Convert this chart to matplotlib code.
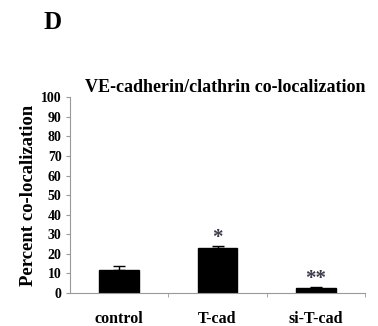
import numpy as np
import matplotlib.pyplot as plt

plt.rcParams['font.family'] = ['Liberation Serif', 'DejaVu Serif']
plt.rcParams['font.weight'] = 'bold'

groups = ["control", "T-cad", "si-T-cad"]
values = [12.0, 23.0, 2.5]
errors = [2.0, 1.0, 0.8]
marks = ["", "*", "**"]

fig = plt.figure(figsize=(3.78, 3.26), dpi=100)
ax = fig.add_axes([0.185, 0.101, 0.781, 0.601])

x = np.arange(len(groups))
ax.bar(x, values, width=0.4, color="black", edgecolor="black")
ax.errorbar(x, values, yerr=[np.zeros(3), errors], fmt="none", ecolor="black",
            elinewidth=1, capsize=4, capthick=1)
for xi, v, e, m in zip(x, values, errors, marks):
    if m:
        ax.text(xi, v + e - 1.0, m, ha="center", va="bottom", fontsize=15,
                color="#3a3a4a", fontweight="bold")

ax.set_xlim(-0.5, 2.5)
ax.set_ylim(0, 100)
ax.set_yticks(np.arange(0, 101, 10))
ax.set_xticks(x)
ax.set_xticklabels(groups, fontsize=11.5, fontweight="bold")
ax.set_xticks([0.5, 1.5, 2.5], minor=True)
ax.tick_params(axis="x", which="major", length=0, pad=13)
ax.tick_params(axis="x", which="minor", length=3, color="#999999")
ax.tick_params(axis="y", length=3, color="#999999", labelsize=10, pad=3)
for t in ax.get_yticklabels():
    t.set_fontweight("bold")
for s in ["top", "right"]:
    ax.spines[s].set_visible(False)
for s in ["left", "bottom"]:
    ax.spines[s].set_color("#999999")
ax.set_ylabel("Percent co-localization", fontsize=13.5, fontweight="bold", labelpad=3)
ax.set_title("VE-cadherin/clathrin co-localization", fontsize=13,
             fontweight="bold", x=0.525, pad=4)

fig.text(0.115, 0.93, "D", fontsize=18, fontweight="bold", ha="left", va="center")

fig.savefig("out.png", dpi=100)
